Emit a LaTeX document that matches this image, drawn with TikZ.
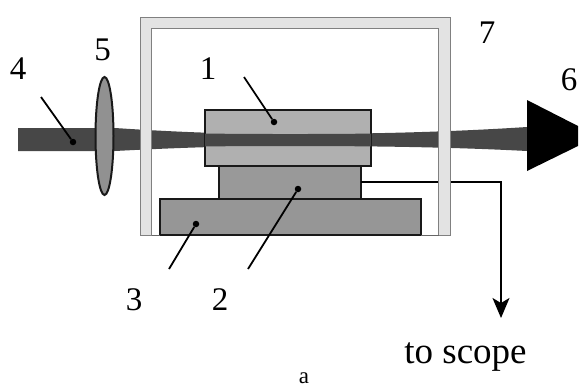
\documentclass[tikz,border=0pt]{standalone}
\usepackage{fontspec}
\setmainfont{Liberation Serif}
\usetikzlibrary{arrows.meta}
\tikzset{
  blockline/.style={draw=black!90, line width=2pt},
  leaderline/.style={draw=black, line width=1.8pt},
  leaderdot/.style={circle, fill=black, inner sep=0pt, minimum size=6.5pt},
  numlabel/.style={anchor=base, inner sep=0pt, font=\fontsize{33}{33}\selectfont},
}
\begin{document}
\begin{tikzpicture}[x=1pt, y=-1pt]
\providecommand{\beamColor}{black!72}
\providecommand{\frameColor}{black!11}
\providecommand{\frameLineColor}{black!50}
\useasboundingbox (0,0) rectangle (581,389);
% Beam
\fill[\beamColor] (18,128) -- (115,128) .. controls (190,133) and (240,134) .. (290,134)
  .. controls (370,134) and (450,132) .. (527,127) -- (527,151)
  .. controls (450,147) and (370,146) .. (290,146)
  .. controls (240,146) and (190,147) .. (115,151) -- (18,151) -- cycle;
% Blocks
\path[blockline, fill=black!31] (205,110) rectangle (371,165.5);
\fill[\beamColor] (205,133.5) .. controls (240,134) and (260,134) .. (290,134)
  .. controls (320,134) and (345,134) .. (371,133.5) -- (371,146.5)
  .. controls (345,146) and (320,146) .. (290,146)
  .. controls (260,146) and (240,146) .. (205,146.5) -- cycle;
\path[blockline, fill=black!40] (219,166) rectangle (361,199);
\path[blockline, fill=black!41] (160,199) rectangle (421,235);
% Signal wire
\coordinate (wirestart) at (361,182);
\coordinate (wirecorner) at (501,182);
\coordinate (wireend) at (501,318);
\draw[line width=1.8pt, -{Stealth[length=20pt, width=17pt, inset=5pt]}] (wirestart) -- (wirecorner) -- (wireend);
% Frame
\path[fill=\frameColor, draw=\frameLineColor, line width=1pt]
  (151.5,235) -- (140,235) -- (140,17) -- (450,17) -- (450,235) -- (438.5,235)
  -- (438.5,28) -- (151.5,28) -- cycle;
\draw[draw=black!60, line width=1pt] (151.5,235) -- (160,235) (421,235) -- (438.5,235);
% Lens
\path[blockline, fill=black!43] (104.5,136) ellipse [x radius=9pt, y radius=59pt];
% Detector
\fill[black] (527,100) -- (578,126) -- (578,146) -- (527,171) -- cycle;
% Leaders
\node[leaderdot] (dotfour) at (73,142) {};
\node[leaderdot] (dotone) at (274,122) {};
\node[leaderdot] (dottwo) at (298,189) {};
\node[leaderdot] (dotthree) at (196,224) {};
\coordinate (endfour) at (41,97);
\coordinate (endone) at (244,77);
\coordinate (endtwo) at (248,269);
\coordinate (endthree) at (169,269);
\draw[leaderline] (endfour) -- (dotfour);
\draw[leaderline] (endone) -- (dotone);
\draw[leaderline] (endtwo) -- (dottwo);
\draw[leaderline] (endthree) -- (dotthree);
% Labels
\node[numlabel] (labelfour) at (18,79) {4};
\node[numlabel] (labelfive) at (102.5,60) {5};
\node[numlabel] (labelone) at (208,79) {1};
\node[numlabel] (labelseven) at (487,43) {7};
\node[numlabel] (labelsix) at (569,90.5) {6};
\node[numlabel] (labelthree) at (134,310.5) {3};
\node[numlabel] (labeltwo) at (220,310.5) {2};
\node[numlabel, font=\fontsize{37}{37}\selectfont] (labelscope) at (465.5,363) {to scope};
\node[numlabel, font=\fontsize{23}{23}\selectfont] (labela) at (304,383) {a};
\end{tikzpicture}
\end{document}
